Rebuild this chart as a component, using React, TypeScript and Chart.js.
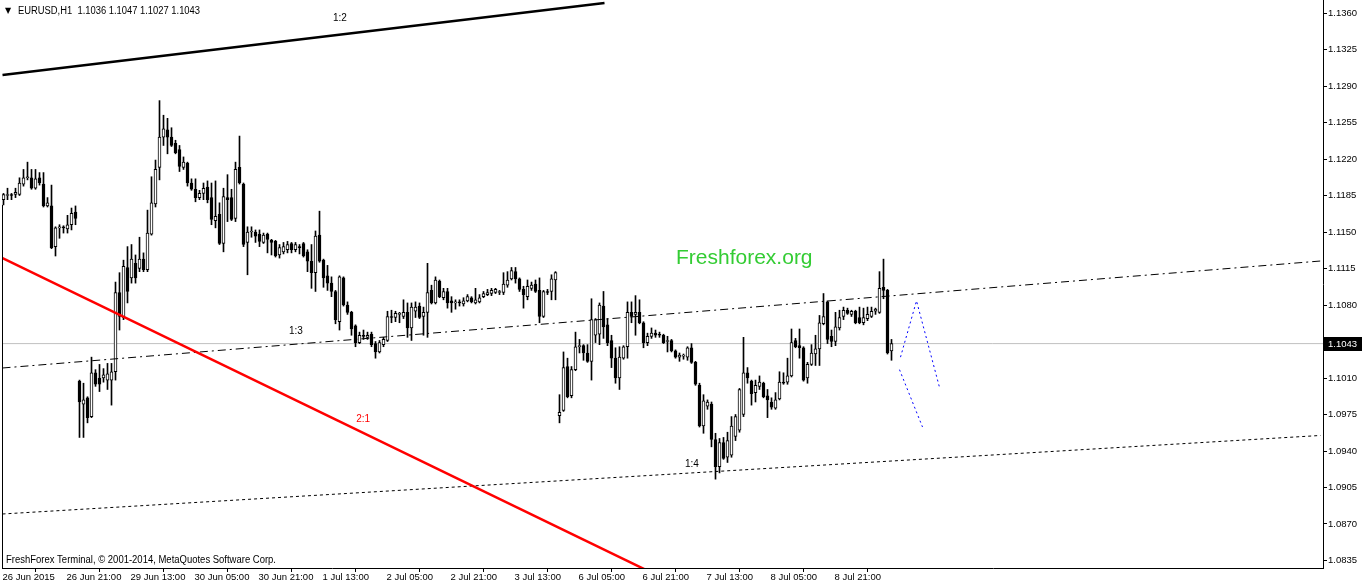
import React, { useEffect, useRef } from "react";
import { Chart, registerables } from "chart.js";
Chart.register(...registerables);

// ---- EURUSD H1 candles, 26 Jun 2015 05:00 .. 9 Jul 2015 11:00 ----
const opens = [
  1.1181,1.1185,1.1186,1.1186,1.1186,1.1196,1.1202,1.1202,1.1192,1.1202,1.1196,1.1175,1.1175,1.1136,1.1154,1.1155,1.1153,1.1157,1.1169,
  1.1007,1.0985,1.0991,1.0973,1.1015,1.1010,1.1010,1.1008,1.1008,1.1016,1.1092,1.1068,1.1116,1.1106,1.1120,1.1115,1.1124,1.1114,1.1148,1.1177,1.1212,
  1.1241,1.1248,1.1241,1.1235,1.1229,1.1212,1.1216,1.1197,1.1191,1.1183,1.1187,1.1193,1.1183,1.1161,1.1167,1.1139,1.1183,1.1183,1.1163,1.1212,
  1.1196,1.1140,1.1150,1.1150,1.1148,1.1140,1.1148,1.1142,1.1141,1.1128,1.1131,1.1133,1.1139,1.1133,1.1136,1.1139,1.1131,1.1122,1.1111,1.1147,
  1.1123,1.1108,1.1101,1.1093,1.1064,1.1106,1.1080,1.1073,1.1060,1.1044,1.1051,1.1049,1.1052,1.1043,1.1035,1.1042,1.1046,1.1069,1.1068,1.1071,
  1.1069,1.1073,1.1058,1.1074,1.1079,1.1069,1.1073,1.1094,1.1082,1.1103,1.1087,1.1093,1.1084,1.1082,1.1083,1.1081,1.1084,1.1087,1.1082,1.1083,
  1.1088,1.1090,1.1091,1.1092,1.1092,1.1092,1.1099,1.1105,1.1112,1.1105,1.1095,1.1088,1.1096,1.1100,1.1094,1.1069,1.1093,1.1093,1.1104,
  1.0974,1.0979,1.1021,1.0993,1.1018,1.1040,1.1041,1.1034,1.1026,1.1051,1.1052,1.1079,1.1061,1.1046,1.1029,1.1010,1.1029,1.1040,1.1073,1.1071,
  1.1073,1.1063,1.1044,1.1050,1.1053,1.1052,1.1051,1.1045,1.1046,1.1036,1.1030,1.1031,1.1030,1.1039,1.1025,1.1003,1.0964,1.0983,1.0985,1.0951,
  1.0925,1.0948,1.0934,1.0936,1.0954,1.0960,1.0975,1.1015,1.1007,1.0996,1.1002,1.1005,1.0993,1.0987,1.0981,1.0990,1.1006,1.1006,1.1012,1.1046,
  1.1041,1.1039,1.1010,1.1023,1.1033,1.1038,1.1062,1.1083,1.1050,1.1045,1.1058,1.1069,1.1075,1.1071,1.1074,1.1068,1.1063,1.1067,1.1069,1.1074,
  1.1073,1.1097,1.1094,1.1036,
];
const highs = [
  1.1187,1.1192,1.1187,1.1192,1.1202,1.1210,1.1217,1.1210,1.1210,1.1207,1.1207,1.1183,1.1195,1.1155,1.1157,1.1156,1.1166,1.1173,1.1175,
  1.1008,1.1005,1.0992,1.1030,1.1018,1.1023,1.1019,1.1024,1.1024,1.1102,1.1111,1.1123,1.1136,1.1138,1.1128,1.1145,1.1130,1.1171,1.1203,1.1219,1.1276,
  1.1262,1.1259,1.1250,1.1238,1.1233,1.1222,1.1217,1.1201,1.1201,1.1190,1.1197,1.1199,1.1197,1.1199,1.1178,1.1192,1.1205,1.1191,1.1217,1.1242,
  1.1197,1.1155,1.1155,1.1152,1.1152,1.1149,1.1149,1.1143,1.1142,1.1138,1.1140,1.1141,1.1140,1.1140,1.1138,1.1140,1.1133,1.1138,1.1151,1.1170,
  1.1124,1.1118,1.1107,1.1094,1.1108,1.1107,1.1083,1.1074,1.1061,1.1054,1.1056,1.1054,1.1054,1.1045,1.1046,1.1049,1.1074,1.1075,1.1074,1.1073,
  1.1085,1.1082,1.1082,1.1083,1.1082,1.1078,1.1120,1.1099,1.1107,1.1104,1.1096,1.1096,1.1088,1.1085,1.1085,1.1087,1.1090,1.1088,1.1096,1.1090,
  1.1093,1.1095,1.1096,1.1096,1.1094,1.1111,1.1112,1.1116,1.1116,1.1106,1.1098,1.1104,1.1102,1.1104,1.1106,1.1094,1.1095,1.1109,1.1112,
  1.0994,1.1035,1.1029,1.1021,1.1054,1.1047,1.1042,1.1042,1.1086,1.1067,1.1082,1.1093,1.1067,1.1051,1.1039,1.1040,1.1041,1.1083,1.1083,1.1089,
  1.1085,1.1064,1.1053,1.1058,1.1056,1.1054,1.1052,1.1050,1.1047,1.1037,1.1034,1.1033,1.1040,1.1043,1.1026,1.1005,1.0994,1.0989,1.0987,1.0957,
  1.0952,1.0953,1.0958,1.0973,1.0975,1.1000,1.1049,1.1020,1.1008,1.1008,1.1012,1.1006,1.0999,1.0991,1.0996,1.1016,1.1015,1.1029,1.1057,1.1048,
  1.1057,1.1040,1.1025,1.1042,1.1051,1.1070,1.1091,1.1084,1.1056,1.1073,1.1075,1.1078,1.1077,1.1075,1.1075,1.1078,1.1077,1.1078,1.1078,1.1077,
  1.1112,1.1124,1.1095,1.1047,
];
const lows = [
  1.1176,1.1181,1.1181,1.1183,1.1185,1.1194,1.1200,1.1191,1.1191,1.1195,1.1174,1.1174,1.1134,1.1127,1.1144,1.1149,1.1149,1.1152,1.1157,
  1.0953,1.0953,1.0967,1.0972,1.1002,1.0997,1.1006,1.0999,1.0984,1.1008,1.1056,1.1066,1.1082,1.1101,1.1101,1.1112,1.1112,1.1112,1.1147,1.1174,1.1200,
  1.1233,1.1225,1.1232,1.1225,1.1208,1.1210,1.1194,1.1190,1.1179,1.1181,1.1181,1.1178,1.1157,1.1154,1.1138,1.1131,1.1160,1.1161,1.1160,1.1196,
  1.1136,1.1109,1.1145,1.1140,1.1136,1.1139,1.1130,1.1128,1.1126,1.1125,1.1129,1.1130,1.1130,1.1131,1.1129,1.1126,1.1112,1.1096,1.1093,1.1121,
  1.1097,1.1094,1.1088,1.1062,1.1056,1.1079,1.1071,1.1051,1.1040,1.1043,1.1047,1.1047,1.1040,1.1029,1.1034,1.1040,1.1045,1.1063,1.1064,1.1063,
  1.1067,1.1049,1.1046,1.1068,1.1067,1.1051,1.1049,1.1081,1.1081,1.1087,1.1085,1.1077,1.1073,1.1076,1.1079,1.1079,1.1083,1.1082,1.1081,1.1082,
  1.1087,1.1089,1.1089,1.1091,1.1090,1.1090,1.1097,1.1104,1.1101,1.1093,1.1077,1.1085,1.1094,1.1092,1.1063,1.1068,1.1090,1.1085,1.1085,
  1.0967,1.0978,1.0991,1.0991,1.1017,1.1034,1.1027,1.1025,1.1008,1.1044,1.1042,1.1048,1.1041,1.1020,1.1005,1.0999,1.1028,1.1029,1.1063,1.1051,
  1.1062,1.1039,1.1041,1.1048,1.1049,1.1049,1.1043,1.1035,1.1035,1.1029,1.1026,1.1028,1.1027,1.1024,1.1003,1.0963,1.0957,1.0980,1.0944,1.0913,
  1.0919,1.0932,1.0929,1.0934,1.0950,1.0958,1.0973,1.1005,1.0984,1.0987,1.0999,1.0991,1.0972,1.0980,1.0980,1.0989,1.1004,1.1004,1.1011,1.1039,
  1.1029,1.1007,1.1005,1.1022,1.1022,1.1022,1.1061,1.1043,1.1040,1.1041,1.1056,1.1066,1.1071,1.1069,1.1062,1.1062,1.1061,1.1065,1.1068,1.1071,
  1.1072,1.1086,1.1033,1.1027,
];
const closes = [
  1.1186,1.1186,1.1185,1.1188,1.1197,1.1202,1.1203,1.1192,1.1201,1.1197,1.1175,1.1178,1.1135,1.1154,1.1155,1.1154,1.1157,1.1168,1.1163,
  1.0987,1.0989,1.0972,1.1015,1.1004,1.1004,1.1013,1.1014,1.1016,1.1092,1.1069,1.1117,1.1093,1.1124,1.1106,1.1124,1.1114,1.1149,1.1178,1.1210,1.1241,
  1.1249,1.1241,1.1233,1.1226,1.1213,1.1217,1.1197,1.1191,1.1183,1.1187,1.1192,1.1181,1.1162,1.1165,1.1139,1.1184,1.1181,1.1162,1.1210,1.1197,
  1.1138,1.1150,1.1151,1.1146,1.1141,1.1147,1.1143,1.1140,1.1127,1.1135,1.1136,1.1138,1.1133,1.1138,1.1135,1.1127,1.1122,1.1111,1.1146,1.1122,
  1.1106,1.1101,1.1093,1.1066,1.1107,1.1080,1.1073,1.1057,1.1044,1.1051,1.1050,1.1051,1.1042,1.1035,1.1044,1.1047,1.1069,1.1068,1.1072,1.1072,
  1.1073,1.1058,1.1078,1.1078,1.1068,1.1073,1.1092,1.1082,1.1104,1.1088,1.1093,1.1082,1.1082,1.1083,1.1082,1.1084,1.1088,1.1083,1.1085,1.1087,
  1.1091,1.1092,1.1094,1.1095,1.1093,1.1100,1.1104,1.1113,1.1105,1.1095,1.1090,1.1098,1.1099,1.1093,1.1069,1.1093,1.1092,1.1105,1.1111,
  1.0977,1.1020,1.0992,1.1018,1.1040,1.1041,1.1034,1.1026,1.1066,1.1066,1.1080,1.1059,1.1044,1.1029,1.1010,1.1030,1.1040,1.1073,1.1069,1.1073,
  1.1063,1.1044,1.1050,1.1053,1.1051,1.1051,1.1044,1.1046,1.1036,1.1030,1.1032,1.1032,1.1039,1.1025,1.1004,1.0964,1.0988,1.0987,1.0951,1.0925,
  1.0948,1.0933,1.0950,1.0964,1.0973,1.0999,1.1015,1.1010,1.0995,1.1003,1.1006,1.0992,1.0989,1.0982,1.0989,1.1006,1.1005,1.1012,1.1044,1.1040,
  1.1039,1.1008,1.1023,1.1034,1.1038,1.1063,1.1069,1.1047,1.1045,1.1059,1.1068,1.1075,1.1072,1.1074,1.1063,1.1063,1.1068,1.1071,1.1074,1.1076,
  1.1096,1.1094,1.1034,1.1043,
];

// ---- axis ticks ----
const xTickBars = [0, 16, 32, 48, 64, 80, 96, 112, 128, 144, 160, 176, 192, 208];
const xTickLabels = [
  "26 Jun 2015", "26 Jun 21:00", "29 Jun 13:00", "30 Jun 05:00", "30 Jun 21:00", "1 Jul 13:00", "2 Jul 05:00",
  "2 Jul 21:00", "3 Jul 13:00", "6 Jul 05:00", "6 Jul 21:00", "7 Jul 13:00", "8 Jul 05:00", "8 Jul 21:00",
];
const yTickValues = [1.0835, 1.087, 1.0905, 1.094, 1.0975, 1.101, 1.1045, 1.108, 1.1115, 1.115, 1.1185, 1.122, 1.1255, 1.129, 1.1325, 1.136];

// ---- drawn objects (bar index, price) ----
const line12 = [{ x: -0.25, y: 1.13006 }, { x: 150.25, y: 1.13696 }];
const line21 = [{ x: -0.25, y: 1.1125 }, { x: 164.25, y: 1.08192 }];
const line13 = [{ x: -0.25, y: 1.10196 }, { x: 329.25, y: 1.11222 }];
const line14 = [{ x: -0.25, y: 1.08796 }, { x: 329.25, y: 1.09549 }];
const forecastUp = [{ x: 224.25, y: 1.103 }, { x: 228.25, y: 1.1084 }, { x: 234, y: 1.1001 }];
const forecastDown = [{ x: 224, y: 1.1018 }, { x: 229.75, y: 1.0963 }];
const lineTags = [
  { text: "1:2", bar: 84.1, price: 1.1355, color: "#000000" },
  { text: "1:3", bar: 73.1, price: 1.1055, color: "#000000" },
  { text: "2:1", bar: 89.9, price: 1.097, color: "#ff0000" },
  { text: "1:4", bar: 172.1, price: 1.0927, color: "#000000" },
];

const FONT = "'Liberation Sans', Arial, sans-serif";
const X_MIN = -0.375;
const X_MAX = 329.875;
const Y_MIN = 1.08278;
const Y_MAX = 1.13725;

export default function App() {
  const ref = useRef<HTMLCanvasElement>(null);

  useEffect(() => {
    document.body.style.margin = "0";
    const canvas = ref.current;
    if (!canvas) return;
    const n = closes.length;
    const last = n - 1;
    const idx = closes.map((_, i) => i);
    const wickData = idx.map((i) => ({ x: i, y: [lows[i], highs[i]] }));
    const bodyData = idx.map((i) => ({ x: i, y: [opens[i], closes[i]] }));
    const bodyColors = idx.map((i) => (closes[i] >= opens[i] ? "#ffffff" : "#000000"));
    const bidLine = [{ x: X_MIN, y: closes[last] }, { x: X_MAX, y: closes[last] }];

    const overlay = {
      id: "overlay",
      afterDatasetsDraw(chart: any) {
        const { ctx, chartArea, scales } = chart;
        const xs = scales.x;
        const ys = scales.y;
        ctx.save();
        ctx.strokeStyle = "#000";
        ctx.lineWidth = 1;
        ctx.beginPath();
        ctx.moveTo(chartArea.left + 0.5, ys.getPixelForValue(lows[0]));
        ctx.lineTo(chartArea.left + 0.5, chartArea.bottom);
        ctx.stroke();
        ctx.font = `10px ${FONT}`;
        ctx.textAlign = "center";
        ctx.textBaseline = "middle";
        for (const t of lineTags) {
          ctx.fillStyle = t.color;
          ctx.fillText(t.text, xs.getPixelForValue(t.bar), ys.getPixelForValue(t.price));
        }
        ctx.textAlign = "left";
        ctx.fillStyle = "#000";
        ctx.font = `8px 'DejaVu Sans', sans-serif`;
        ctx.fillText("▼", 5, 11);
        ctx.font = `10px ${FONT}`;
        const hdr = `EURUSD,H1  ${opens[last].toFixed(4)} ${highs[last].toFixed(4)} ${lows[last].toFixed(4)} ${closes[last].toFixed(4)}`;
        ctx.fillText(hdr, 18, 11, 182);
        ctx.fillText("FreshForex Terminal, © 2001-2014, MetaQuotes Software Corp.", 6, 560, 270);
        ctx.fillStyle = "#33cc33";
        ctx.font = `21px ${FONT}`;
        ctx.fillText("Freshforex.org", 676, 258);
        ctx.restore();
      },
      afterDraw(chart: any) {
        const { ctx, chartArea, scales, width } = chart;
        const yp = Math.round(scales.y.getPixelForValue(closes[last]));
        ctx.save();
        ctx.fillStyle = "#000";
        ctx.fillRect(chartArea.right + 1, yp - 7, width - chartArea.right - 1, 14);
        ctx.fillStyle = "#fff";
        ctx.font = `9.5px ${FONT}`;
        ctx.textBaseline = "middle";
        ctx.textAlign = "left";
        ctx.fillText(closes[last].toFixed(4), chartArea.right + 5, yp);
        ctx.restore();
      },
    };

    const lineDs = (data: any[], color: string, w: number, dash: number[], order: number) => ({
      type: "line" as const,
      data,
      borderColor: color,
      borderWidth: w,
      borderDash: dash,
      pointRadius: 0,
      fill: false,
      tension: 0,
      order,
    });

    const chart = new Chart(canvas, {
      type: "bar",
      data: {
        datasets: [
          lineDs(line12, "#000000", 2.5, [], -1),
          lineDs(line21, "#ff0000", 2.5, [], -1),
          lineDs(line13, "#000000", 1, [8, 4, 2, 4], -1),
          lineDs(line14, "#000000", 1, [3, 3], -1),
          lineDs(forecastUp, "#0000ff", 1, [2, 3], -1),
          lineDs(forecastDown, "#0000ff", 1, [2, 3], -1),
          {
            type: "bar" as const,
            data: bodyData as any,
            backgroundColor: bodyColors,
            borderColor: "#000000",
            borderWidth: 1,
            borderSkipped: false,
            barThickness: 3,
            grouped: false,
            order: 0,
          },
          {
            type: "bar" as const,
            data: wickData as any,
            backgroundColor: "#000000",
            borderWidth: 0,
            barThickness: 1,
            grouped: false,
            order: 1,
          },
          lineDs(bidLine, "#c0c0c0", 1, [], 5),
        ] as any,
      },
      options: {
        responsive: false,
        maintainAspectRatio: false,
        devicePixelRatio: 1,
        animation: false,
        layout: { padding: { left: 2, top: 0, right: 0, bottom: 0 } },
        plugins: { legend: { display: false }, tooltip: { enabled: false } },
        scales: {
          x: {
            type: "linear",
            position: "bottom",
            min: X_MIN,
            max: X_MAX,
            offset: false,
            afterBuildTicks: (s: any) => {
              s.ticks = xTickBars.map((v) => ({ value: v }));
            },
            afterFit: (s: any) => {
              s.height = 18;
              s.paddingLeft = 0;
              s.paddingRight = 0;
            },
            ticks: {
              autoSkip: false,
              maxRotation: 0,
              minRotation: 0,
              align: "start",
              labelOffset: -1,
              padding: 0,
              color: "#000",
              font: { family: FONT, size: 9.5 },
              callback: (v: any) => {
                const k = xTickBars.indexOf(Number(v));
                return k >= 0 ? xTickLabels[k] : "";
              },
            },
            grid: { drawOnChartArea: false, tickLength: 4, tickColor: "#000", color: "#000" },
            border: { display: true, color: "#000", width: 1 },
          },
          y: {
            type: "linear",
            position: "right",
            min: Y_MIN,
            max: Y_MAX,
            afterBuildTicks: (s: any) => {
              s.ticks = yTickValues.map((v) => ({ value: v }));
            },
            afterFit: (s: any) => {
              s.width = 39;
              s.paddingTop = 0;
              s.paddingBottom = 0;
            },
            ticks: {
              padding: 1,
              color: "#000",
              font: { family: FONT, size: 9.5 },
              callback: (v: any) => Number(v).toFixed(4),
            },
            grid: { drawOnChartArea: false, tickLength: 4, tickColor: "#000", color: "#000" },
            border: { display: true, color: "#000", width: 1 },
          },
        },
      } as any,
      plugins: [overlay],
    });
    return () => chart.destroy();
  }, []);

  return (
    <div style={{ width: 1362, height: 586, background: "#fff" }}>
      <canvas ref={ref} width={1362} height={586} style={{ display: "block" }} />
    </div>
  );
}
